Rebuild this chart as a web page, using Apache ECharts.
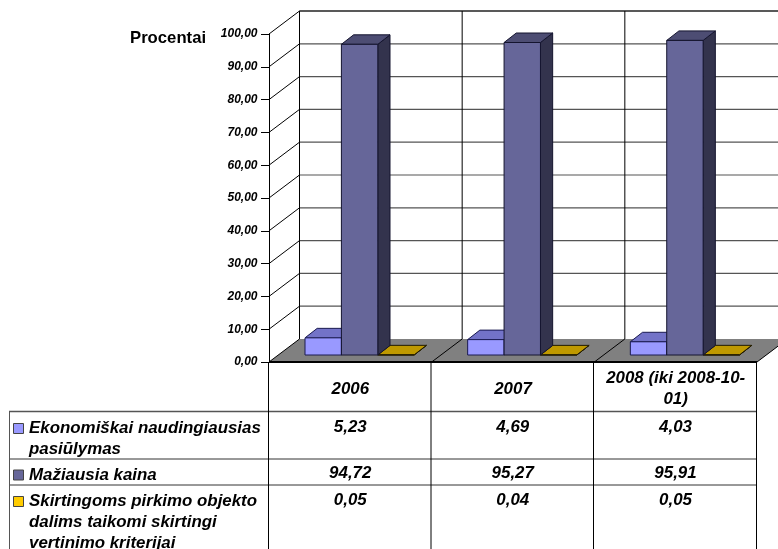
<!DOCTYPE html>
<html>
<head>
<meta charset="utf-8">
<style>html,body{margin:0;padding:0;background:#fff}#c{width:778px;height:549px}</style>
<script src="https://cdn.jsdelivr.net/npm/echarts@6/dist/echarts.min.js"></script>
</head>
<body>
<div id="c"></div>
<script>
// Shares of procurement award criteria per year
var categories = ['2006', '2007', '2008 (iki 2008-10-\n01)'];
var economical = [5.23, 4.69, 4.03];
var lowestPrice = [94.72, 95.27, 95.91];
var differentCriteria = [0.05, 0.04, 0.05];
var valueTicks = [0, 10, 20, 30, 40, 50, 60, 70, 80, 90, 100];
var economicalName = ['Ekonomiškai naudingiausias', 'pasiūlymas'];
var lowestPriceName = ['Mažiausia kaina'];
var differentCriteriaName = ['Skirtingoms pirkimo objekto', 'dalims taikomi skirtingi', 'vertinimo kriterijai'];

var FONT = '"Liberation Sans", Arial, sans-serif';

// Oblique projection of the box: wall depth and bar depth, in pixels
var DEPTH = [30.5, -23];
var BAR_DEPTH = [12.2, -9.5];
var BAR_SHIFT = [36, -7];
var BAR_W = 36.4;

function poly(pts, fill, stroke, lw) {
  return { type: 'polygon', shape: { points: pts }, style: { fill: fill, stroke: stroke || null, lineWidth: lw || 0 } };
}
function seg(a, b, color, lw) {
  return { type: 'line', shape: { x1: a[0], y1: a[1], x2: b[0], y2: b[1] }, style: { stroke: color, lineWidth: lw || 1, fill: null } };
}
function off(p, d) { return [p[0] + d[0], p[1] + d[1]]; }

// Floor of the box with its category dividers
function renderFloor(params, api) {
  var half = api.size([1, 0])[0] / 2;
  var a = api.coord([0, 0]); a[0] -= half;
  var b = api.coord([categories.length - 1, 0]); b[0] += half;
  var kids = [poly([a, b, off(b, DEPTH), off(a, DEPTH)], '#808080')];
  categories.forEach(function (c, i) {
    var p = api.coord([i, 0]); p[0] += half;
    kids.push(seg(p, off(p, DEPTH), '#000', 1));
  });
  kids.push(seg(a, off(a, DEPTH), '#000', 1));
  kids.push(seg(a, b, '#000', 2));
  return { type: 'group', children: kids };
}

// Back wall and side wall rulings for one value tick
function renderWall(params, api) {
  var half = api.size([1, 0])[0] / 2;
  var v = api.value(1);
  var a = api.coord([0, v]); a[0] -= half;
  var b = api.coord([categories.length - 1, v]); b[0] += half;
  var isTop = v === valueTicks[valueTicks.length - 1];
  var kids = [];
  if (v !== 0) {
    kids.push(seg(off(a, DEPTH), off(b, DEPTH), isTop ? '#222' : '#555', isTop ? 1.4 : 1.2));
    kids.push(seg(a, off(a, DEPTH), '#000', 1));
  }
  return { type: 'group', children: kids };
}

// Vertical rulings on the back wall
function renderWallColumn(params, api) {
  var half = api.size([1, 0])[0] / 2;
  var i = api.value(0);
  var bottom = api.coord([i, 0]);
  var top = api.coord([i, valueTicks[valueTicks.length - 1]]);
  var x = bottom[0] - half + DEPTH[0];
  var kids = [seg([x, bottom[1] + DEPTH[1]], [x, top[1] + DEPTH[1]], '#000', 1)];
  return { type: 'group', children: kids };
}

// A bar as front, side and top faces
function barRenderer(slot, front, top, side, stroke) {
  return function (params, api) {
    var half = api.size([1, 0])[0] / 2;
    var i = api.value(0);
    var base = api.coord([i, 0]);
    var head = api.coord([i, api.value(1)]);
    var x0 = base[0] - half + BAR_SHIFT[0] + slot * BAR_W;
    var x1 = x0 + BAR_W;
    var y0 = base[1] + BAR_SHIFT[1];
    var y1 = head[1] + BAR_SHIFT[1];
    var bl = [x0, y0], br = [x1, y0], tl = [x0, y1], tr = [x1, y1];
    return {
      type: 'group',
      children: [
        poly([br, tr, off(tr, BAR_DEPTH), off(br, BAR_DEPTH)], side, stroke, 1),
        poly([tl, tr, off(tr, BAR_DEPTH), off(tl, BAR_DEPTH)], top, stroke, 1),
        poly([bl, br, tr, tl], front, stroke, 1)
      ]
    };
  };
}

function pairs(values) { return values.map(function (v, i) { return [i, v]; }); }
function fmt(v) { return v.toFixed(2).replace('.', ','); }

// Data table under the plot
var TABLE_LEFT = 9, COL = [269, 431.5, 594, 757], ROW = [411.5, 459, 485];
var BOTTOM = 549, HEAD_TOP = 362;
var TEXT_SIZE = 16.9;
var tableGraphics = [];
function tline(x1, y1, x2, y2, color, lw) {
  tableGraphics.push({ type: 'line', shape: { x1: x1, y1: y1, x2: x2, y2: y2 }, style: { stroke: color, lineWidth: lw || 1 }, silent: true });
}
ROW.forEach(function (y, i) { tline(TABLE_LEFT, y, COL[3], y, i === 0 ? '#555' : '#333', i === 0 ? 1.5 : 1); });
tline(TABLE_LEFT + 0.5, ROW[0], TABLE_LEFT + 0.5, BOTTOM, '#555');
COL.forEach(function (x) { tline(x - 0.5, HEAD_TOP, x - 0.5, BOTTOM, '#000'); });

function ttext(x, y, s, align) {
  tableGraphics.push({
    type: 'text', x: x, y: y, silent: true,
    style: { text: s, fill: '#000', font: 'italic bold ' + TEXT_SIZE + 'px ' + FONT, textAlign: align || 'left', textVerticalAlign: 'middle' }
  });
}
var rows = [
  { name: economicalName, key: '#9999FF', values: economical, y: 428.5, sq: 423 },
  { name: lowestPriceName, key: '#666699', values: lowestPrice, y: 475, sq: 469.5 },
  { name: differentCriteriaName, key: '#FFCC00', values: differentCriteria, y: 501.8, sq: 496 }
];
rows.forEach(function (r) {
  tableGraphics.push({
    type: 'rect', shape: { x: 13.5, y: r.sq + 0.5, width: 10, height: 10 },
    style: { fill: r.key, stroke: '#444', lineWidth: 1 }, silent: true
  });
  r.name.forEach(function (line, j) { ttext(29, r.y + j * 20.7, line); });
  r.values.forEach(function (v, j) { ttext((COL[j] + COL[j + 1]) / 2, r.y - 1.3, fmt(v), 'center'); });
});
tableGraphics.push({
  type: 'text', x: 130, y: 38, silent: true,
  style: { text: 'Procentai', fill: '#000', font: 'bold 16.7px ' + FONT, textVerticalAlign: 'middle' }
});

var chart = echarts.init(document.getElementById('c'), null, { renderer: 'canvas' });
chart.setOption({
  animation: false,
  backgroundColor: '#fff',
  grid: { left: 269, top: 34, width: 488, height: 328 },
  xAxis: {
    type: 'category', data: categories,
    axisLine: { show: false }, axisTick: { show: false },
    axisLabel: {
      margin: 27, interval: 0, lineHeight: 21,
      color: '#000', fontFamily: FONT, fontStyle: 'italic', fontWeight: 'bold', fontSize: TEXT_SIZE,
      verticalAlign: 'middle'
    }
  },
  yAxis: {
    type: 'value', min: 0, max: 100, interval: 10,
    splitLine: { show: false },
    axisLine: { show: true, lineStyle: { color: '#000', width: 1 } },
    axisTick: { show: true, length: 8, lineStyle: { color: '#000' } },
    axisLabel: {
      margin: 11.5, color: '#000', fontFamily: FONT, fontStyle: 'italic', fontWeight: 'bold', fontSize: 12,
      formatter: function (v) { return fmt(v); }
    }
  },
  series: [
    { type: 'custom', z: 1, clip: false, silent: true, data: [[0, 0]], encode: { x: 0, y: 1 }, renderItem: renderFloor },
    { type: 'custom', z: 2, clip: false, silent: true, data: valueTicks.map(function (v) { return [0, v]; }), encode: { x: 0, y: 1 }, renderItem: renderWall },
    { type: 'custom', z: 2, clip: false, silent: true, data: pairs([0, 0, 0]), encode: { x: 0, y: 1 }, renderItem: renderWallColumn },
    { type: 'custom', z: 3, clip: false, name: economicalName.join(' '), data: pairs(economical), encode: { x: 0, y: 1 }, renderItem: barRenderer(0, '#9999FF', '#7373C8', '#5C5CA6', '#1A1A50') },
    { type: 'custom', z: 4, clip: false, name: lowestPriceName.join(' '), data: pairs(lowestPrice), encode: { x: 0, y: 1 }, renderItem: barRenderer(1, '#666699', '#4D4D73', '#33334D', '#14142E') },
    { type: 'custom', z: 3, clip: false, name: differentCriteriaName.join(' '), data: pairs(differentCriteria), encode: { x: 0, y: 1 }, renderItem: barRenderer(2, '#FFCC00', '#BF9900', '#806600', '#201A00') }
  ],
  graphic: tableGraphics
});
</script>
</body>
</html>
